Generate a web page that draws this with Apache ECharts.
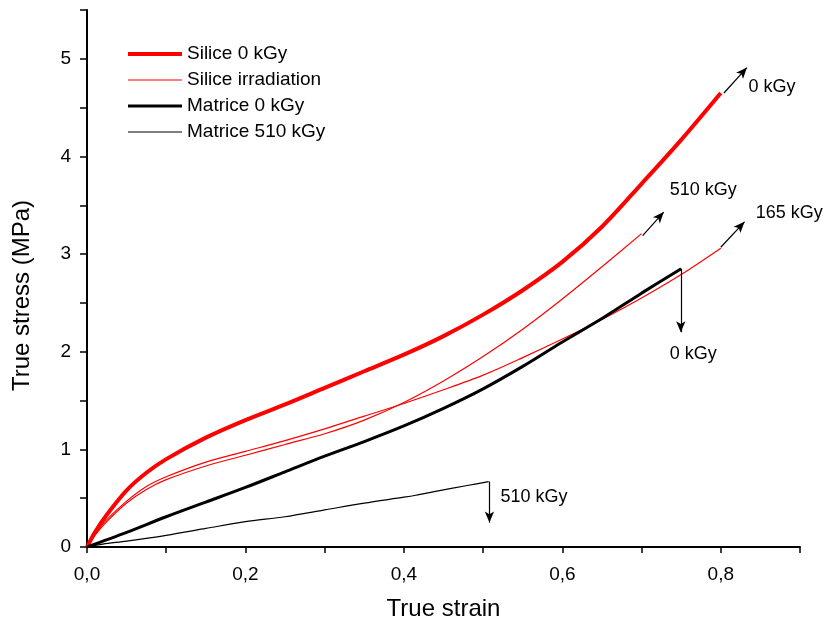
<!DOCTYPE html>
<html>
<head>
<meta charset="utf-8">
<script src="https://cdn.jsdelivr.net/npm/echarts@6/dist/echarts.min.js"></script>
<style>html,body{margin:0;padding:0;background:#fff}#c{width:824px;height:627px}</style>
</head>
<body>
<div id="c"></div>
<script>
// ---- Data (strain, stress MPa) ----
const siliceO = [[0,0],[0.01,0.15],[0.025,0.33],[0.05,0.58],[0.075,0.76],[0.1,0.9],[0.15,1.12],[0.2,1.3],[0.25,1.46],[0.3,1.63],[0.35,1.8],[0.4,1.97],[0.45,2.16],[0.5,2.38],[0.55,2.63],[0.6,2.92],[0.65,3.28],[0.7,3.72],[0.75,4.17],[0.8,4.65]];
const silice510 = [[0,0],[0.01,0.12],[0.025,0.26],[0.05,0.45],[0.075,0.59],[0.1,0.69],[0.15,0.83],[0.2,0.94],[0.25,1.05],[0.3,1.16],[0.35,1.3],[0.4,1.48],[0.45,1.7],[0.5,1.95],[0.55,2.23],[0.6,2.54],[0.65,2.87],[0.7,3.21]];
const silice165 = [[0,0],[0.01,0.13],[0.025,0.28],[0.05,0.47],[0.075,0.62],[0.1,0.72],[0.15,0.87],[0.2,0.98],[0.25,1.09],[0.3,1.21],[0.35,1.34],[0.4,1.47],[0.45,1.61],[0.5,1.76],[0.55,1.94],[0.6,2.13],[0.65,2.33],[0.7,2.55],[0.75,2.79],[0.8,3.06]];
const matrice0 = [[0,0],[0.05,0.15],[0.1,0.31],[0.15,0.46],[0.2,0.61],[0.25,0.77],[0.3,0.93],[0.35,1.08],[0.4,1.24],[0.45,1.42],[0.5,1.62],[0.55,1.85],[0.6,2.1],[0.65,2.34],[0.7,2.6],[0.75,2.85]];
const matrice510 = [[0,0],[0.02,0.03],[0.05,0.06],[0.1,0.12],[0.15,0.19],[0.2,0.26],[0.25,0.31],[0.3,0.38],[0.35,0.45],[0.4,0.51],[0.415,0.53],[0.44,0.57],[0.48,0.63],[0.507,0.67]];

const legendNames = ['Silice 0 kGy','Silice irradiation','Matrice 0 kGy','Matrice 510 kGy'];
const xTickValues = [0,0.2,0.4,0.6,0.8];
const xTickLabels = ['0,0','0,2','0,4','0,6','0,8'];
const yTickValues = [0,1,2,3,4,5];
const yTickLabels = ['0','1','2','3','4','5'];

// annotations: text and arrows (data coordinates)
const annotTexts = [
  {text:'0 kGy', at:[0.835,4.71]},
  {text:'510 kGy', at:[0.7355,3.66]},
  {text:'165 kGy', at:[0.844,3.42]},
  {text:'0 kGy', at:[0.7355,1.98]},
  {text:'510 kGy', at:[0.522,0.51]}
];
const annotArrows = [
  [[0.804,4.65],[0.833,4.91]],
  [[0.7014,3.19],[0.728,3.43]],
  [[0.8,3.07],[0.83,3.33]],
  [[0.7495,2.85],[0.7495,2.2]],
  [[0.508,0.67],[0.508,0.25]]
];

const FONT = 'Liberation Sans, Arial, sans-serif';
function lbl(values, labels){
  return function(v){
    for (let i=0;i<values.length;i++){ if (Math.abs(v-values[i])<1e-6) return labels[i]; }
    return '';
  };
}
const RED = '#ff0000', BLACK = '#000000';
const W_THICK_RED = 4, W_THICK_BLACK = 3, W_THIN = 1.2;
function line(name, data, color, width){
  return {name, type:'line', data, symbol:'none', showSymbol:false, smooth:0.3,
    lineStyle:{color, width}, itemStyle:{color}, emphasis:{disabled:true}, z:3};
}

const chart = echarts.init(document.getElementById('c'));
chart.setOption({
  animation:false,
  backgroundColor:'#fff',
  grid:{left:87, right:24, top:10, bottom:80},
  legend:{
    data:[
      {name:legendNames[0], lineStyle:{width:W_THICK_RED, color:RED}},
      {name:legendNames[1], lineStyle:{width:W_THIN, color:RED}},
      {name:legendNames[2], lineStyle:{width:W_THICK_BLACK, color:BLACK}},
      {name:legendNames[3], lineStyle:{width:W_THIN, color:BLACK}}
    ],
    orient:'vertical', left:121, top:39,
    itemWidth:54, itemHeight:14, itemGap:6,
    itemStyle:{opacity:0},
    textStyle:{fontFamily:FONT, fontSize:19, color:'#000', lineHeight:20},
    selectedMode:false
  },
  xAxis:{
    type:'value', min:0, max:0.9, interval:0.1,
    name:'True strain', nameLocation:'middle', nameGap:50,
    nameTextStyle:{fontFamily:FONT, fontSize:24, color:'#000'},
    axisLine:{onZero:false, lineStyle:{color:'#000', width:2}},
    axisTick:{show:true, length:6, lineStyle:{color:'#000', width:1.5}},
    axisLabel:{formatter:lbl(xTickValues,xTickLabels), fontFamily:FONT, fontSize:19, color:'#000', margin:18, showMaxLabel:true},
    splitLine:{show:false}
  },
  yAxis:{
    type:'value', min:0, max:5.5, interval:0.5,
    name:'True stress (MPa)', nameLocation:'middle', nameGap:53, nameRotate:90,
    nameTextStyle:{fontFamily:FONT, fontSize:24, color:'#000', padding:[0,34,0,0]},
    axisLine:{show:true, onZero:false, lineStyle:{color:'#000', width:2}},
    axisTick:{show:true, length:7, lineStyle:{color:'#000', width:1.5}},
    axisLabel:{formatter:lbl(yTickValues,yTickLabels), fontFamily:FONT, fontSize:19, color:'#000', margin:16},
    splitLine:{show:false}
  },
  series:[
    line('Silice 0 kGy', siliceO, RED, W_THICK_RED),
    line('Silice irradiation', silice510, RED, W_THIN),
    line('Silice irradiation', silice165, RED, W_THIN),
    line('Matrice 0 kGy', matrice0, BLACK, W_THICK_BLACK),
    line('Matrice 510 kGy', matrice510, BLACK, W_THIN),
    {
      name:'annotations', type:'scatter', symbolSize:0, silent:true, z:5,
      itemStyle:{opacity:1, color:'#000'},
      data: annotTexts.map(a=>({value:a.at, label:{formatter:a.text}})),
      label:{show:true, position:'right', distance:0, fontFamily:FONT, fontSize:18, color:'#000', opacity:1},
      markLine:{
        silent:true, symbol:['none','arrow'], symbolSize:[7,11], animation:false,
        label:{show:false}, lineStyle:{color:'#000', width:1.2, type:'solid', opacity:1},
        emphasis:{disabled:true},
        data: annotArrows.map(a=>[{coord:a[0]},{coord:a[1]}])
      }
    }
  ]
});
</script>
</body>
</html>
